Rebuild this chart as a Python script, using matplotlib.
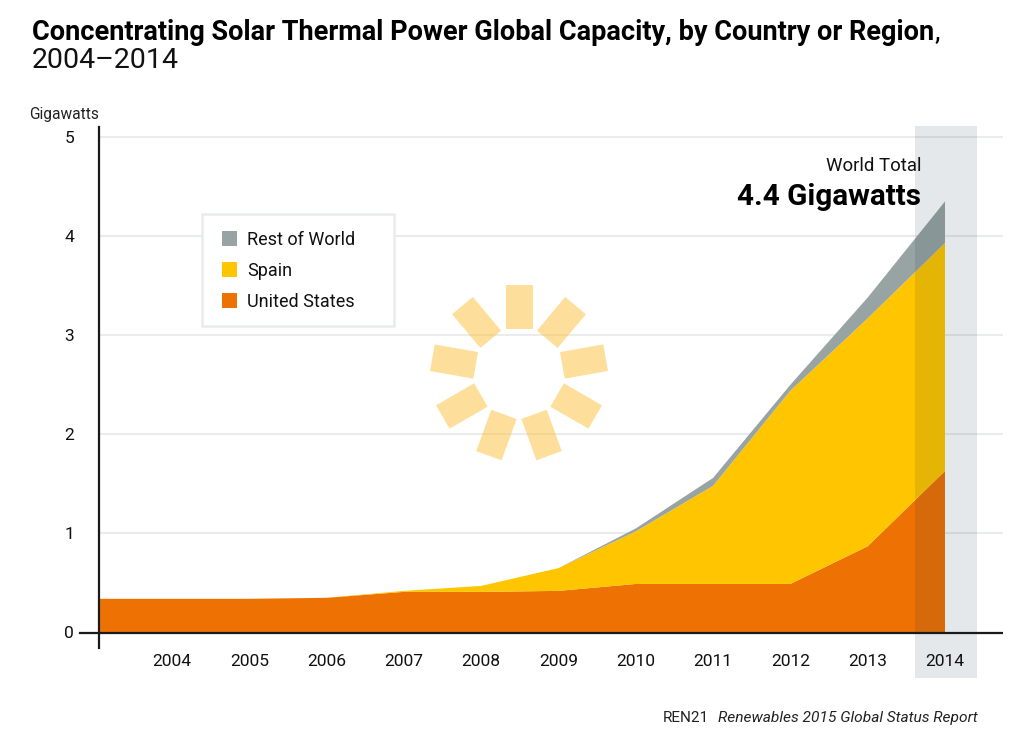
import matplotlib
matplotlib.use('Agg')
import matplotlib.pyplot as plt
from matplotlib.patches import Rectangle
from matplotlib.transforms import Affine2D

plt.rcParams['font.family'] = ['Roboto', 'DejaVu Sans']

# 2003 is the stub at the left edge of the axis
years = [2003.05, 2004, 2005, 2006, 2007, 2008, 2009, 2010, 2011, 2012, 2013, 2014]
tick_years = [2004, 2005, 2006, 2007, 2008, 2009, 2010, 2011, 2012, 2013, 2014]
united_states = [0.34, 0.34, 0.34, 0.35, 0.41, 0.41, 0.42, 0.49, 0.49, 0.49, 0.87, 1.63]
spain = [0.0, 0.0, 0.0, 0.0, 0.01, 0.06, 0.23, 0.53, 0.99, 1.95, 2.30, 2.30]
rest_of_world = [0.0, 0.0, 0.0, 0.0, 0.0, 0.0, 0.0, 0.03, 0.08, 0.06, 0.21, 0.42]
y_ticks = [0, 1, 2, 3, 4, 5]

W, H = 1024, 753
fig = plt.figure(figsize=(W / 100, H / 100), dpi=100, facecolor='white')

# main axes, placed in pixels
left, right, top, bottom = 99, 1003, 127, 648
ax = fig.add_axes([left / W, 1 - bottom / H, (right - left) / W, (bottom - top) / H])
px_y = 99.1
px_x = 77.3
ax.set_ylim(-(bottom - 632.5) / px_y, (632.5 - top) / px_y)
ax.set_xlim(2014 - (945 - left) / px_x, 2014 + (right - 945) / px_x)

polys = ax.stackplot(years, united_states, spain, rest_of_world,
                     colors=['#ee7203', '#ffc600', '#98a4a3'],
                     labels=['United States', 'Spain', 'Rest of World'],
                     linewidth=0, zorder=2)

ax.set_yticks(y_ticks)
ax.set_xticks(tick_years)
ax.tick_params(axis='both', length=0, labelsize=12.5, colors='#111111')
ax.tick_params(axis='y', pad=18)
ax.tick_params(axis='x', pad=4.3)
ax.grid(axis='y', color='#e9ebec', linewidth=1.5, zorder=1)
ax.grid(axis='x', visible=False)
ax.set_axisbelow(True)
for s in ['top', 'right', 'bottom']:
    ax.spines[s].set_visible(False)
ax.spines['left'].set_color('#1a1a1a')
ax.spines['left'].set_linewidth(1.6)
ax.axhline(0, color='#1a1a1a', linewidth=1.6, zorder=3)
ax.plot([-0.021, 0], [15.5 / (bottom - top)] * 2, color='#1a1a1a', linewidth=1.6,
        transform=ax.transAxes, clip_on=False, zorder=3)

# legend frame is its own box so the entries can sit freely inside it
frame = Rectangle(((202 - left) / (right - left), 1 - (326 - top) / (bottom - top)),
                  (394 - 202) / (right - left), (326 - 214) / (bottom - top),
                  transform=ax.transAxes, facecolor='white', edgecolor='#e8eaec',
                  linewidth=1.8, zorder=3.5)
ax.add_patch(frame)

handles, labels = ax.get_legend_handles_labels()
leg = ax.legend(handles[::-1], labels[::-1], loc='upper left',
                bbox_to_anchor=((222 - left) / (right - left), 1 - (231 - top) / (bottom - top)),
                fontsize=13, frameon=False, handlelength=0.83, handleheight=0.9,
                handletextpad=0.55, labelspacing=0.71, borderpad=0,
                borderaxespad=0, labelcolor='#111111')
leg.set_zorder(4)

# overlay in picture pixels for the band, sun and the texts
ov = fig.add_axes([0, 0, 1, 1], facecolor='none')
ov.set_xlim(0, W)
ov.set_ylim(H, 0)
ov.axis('off')

ov.add_patch(Rectangle((914.5, 126), 62.5, 552, facecolor='#0d2640', alpha=0.105, linewidth=0))

# sun rays
for i in range(9):
    tr = Affine2D().rotate_deg(i * 40).translate(519, 373) + ov.transData
    ov.add_patch(Rectangle((-13.5, -88), 27, 44, facecolor='#fdc139', alpha=0.5,
                           linewidth=0, transform=tr))

title = ov.text(32, 39.5, 'Concentrating Solar Thermal Power Global Capacity, by Country or Region',
                fontsize=19.5, fontweight='bold', color='black', va='baseline', ha='left')
title_end = title.get_window_extent(fig.canvas.get_renderer()).x1
ov.text(title_end, 39.5, ',', fontsize=19.5, color='black', va='baseline', ha='left')
ov.text(32, 60, '2004–2014', fontsize=20.5, color='#111111', va='center', ha='left')
ov.text(29, 114, 'Gigawatts', fontsize=11.2, color='#222222', va='center', ha='left')
ov.text(921, 166, 'World Total', fontsize=13.4, color='#111111', va='center', ha='right')
ov.text(921, 197, '4.4 Gigawatts', fontsize=21.3, fontweight='bold', color='black', va='center', ha='right')
ov.text(663, 718, 'REN21', fontsize=11, color='#222222', va='center', ha='left')
ov.text(978, 718, 'Renewables 2015 Global Status Report', fontsize=11.15, style='italic',
        color='#222222', va='center', ha='right')

fig.savefig('out.png', dpi=100)
